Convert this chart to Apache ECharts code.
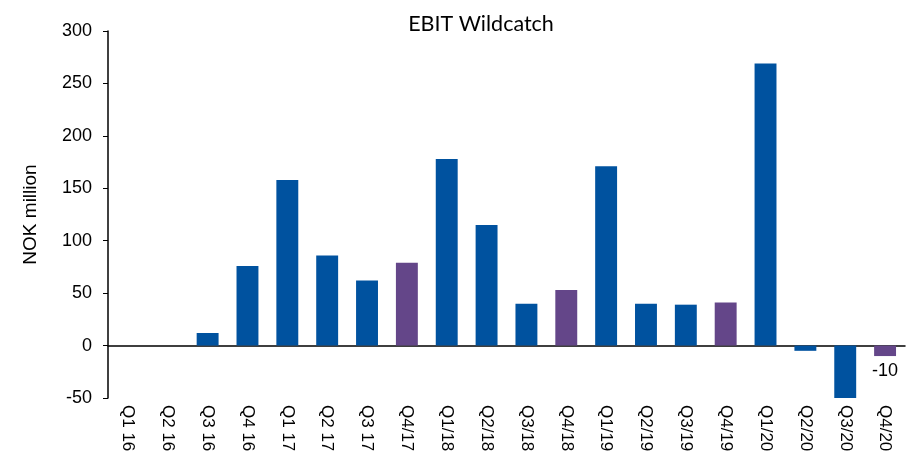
<!DOCTYPE html>
<html>
<head>
<meta charset="utf-8">
<script src="https://cdn.jsdelivr.net/npm/echarts@6/dist/echarts.min.js"></script>
<style>
  html, body { margin: 0; padding: 0; background: #fff; }
  #chart { width: 906px; height: 456px; }
</style>
</head>
<body>
<div id="chart"></div>
<script>
let quarters = ['Q1 16', 'Q2 16', 'Q3 16', 'Q4 16', 'Q1 17', 'Q2 17', 'Q3 17', 'Q4/17',
  'Q1/18', 'Q2/18', 'Q3/18', 'Q4/18', 'Q1/19', 'Q2/19', 'Q3/19', 'Q4/19',
  'Q1/20', 'Q2/20', 'Q3/20', 'Q4/20']
let ebit = [0, 0, 12, 76, 158, 86, 62, 79, 178, 115, 40, 53, 171, 40, 39, 41, 269, -5, -50, -10]
// full-year quarters drawn in purple
let purpleQuarters = ['Q4/17', 'Q4/18', 'Q4/19', 'Q4/20']
let labelledQuarters = ['Q4/20']
let yTicks = [-50, 300, 50]

let blue = '#00529F'
let purple = '#644689'

let barData = []
for (let i in quarters) {
  let q = quarters[i]
  barData.push({
    value: ebit[i],
    itemStyle: { color: purpleQuarters.indexOf(q) >= 0 ? purple : blue },
    label: { show: labelledQuarters.indexOf(q) >= 0 }
  })
}

let myChart = echarts.init(document.getElementById('chart'))
myChart.setOption({
  animation: false,
  title: {
    text: 'EBIT Wildcatch',
    left: 476,
    textAlign: 'center',
    top: 8,
    textStyle: {
      fontFamily: 'Lato',
      fontSize: 21.5,
      fontWeight: 'normal',
      color: '#000'
    }
  },
  grid: {
    left: 108,
    right: 1,
    top: 31,
    bottom: 58,
    containLabel: false
  },
  xAxis: [
    {
      type: 'category',
      data: quarters,
      position: 'bottom',
      axisLine: { show: false, onZero: false },
      axisTick: { show: false },
      axisLabel: {
        rotate: -90,
        interval: 0,
        margin: 7,
        fontFamily: 'Liberation Sans',
        fontSize: 17,
        color: '#000'
      }
    },
    {
      type: 'category',
      data: quarters,
      position: 'bottom',
      axisLine: { show: true, onZero: true, lineStyle: { color: '#000', width: 1.5 } },
      axisTick: { show: false },
      axisLabel: { show: false }
    }
  ],
  yAxis: {
    type: 'value',
    min: yTicks[0],
    max: yTicks[1],
    interval: yTicks[2],
    name: 'NOK million',
    nameLocation: 'middle',
    nameGap: 68,
    nameRotate: 90,
    nameTextStyle: {
      fontFamily: 'Liberation Sans',
      fontSize: 19,
      color: '#000'
    },
    axisLine: { show: true, lineStyle: { color: '#000', width: 1.5 } },
    axisTick: { show: true, inside: false, length: 5, lineStyle: { color: '#000' } },
    splitLine: { show: false },
    axisLabel: {
      margin: 16,
      fontFamily: 'Liberation Sans',
      fontSize: 18,
      color: '#000'
    }
  },
  series: [{
    type: 'bar',
    name: 'EBIT',
    xAxisIndex: 0,
    barWidth: '55%',
    data: barData,
    label: {
      position: 'bottom',
      distance: 6,
      fontFamily: 'Liberation Sans',
      fontSize: 18,
      color: '#000'
    }
  }]
})
</script>
</body>
</html>
